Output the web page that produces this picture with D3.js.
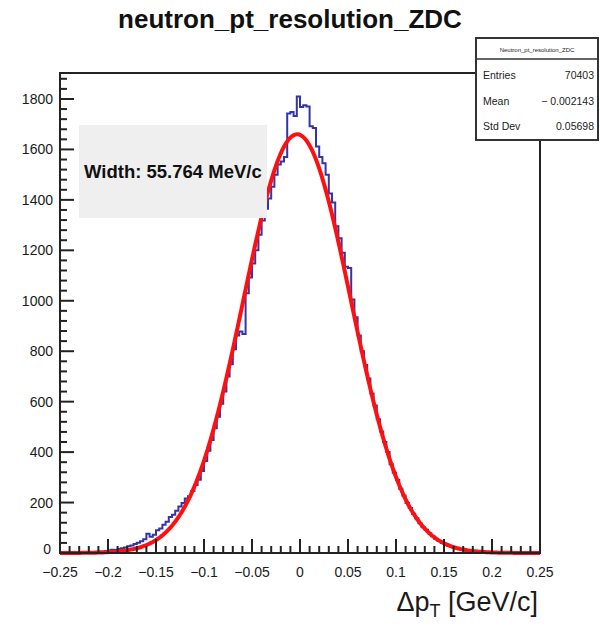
<!DOCTYPE html>
<html><head><meta charset="utf-8">
<script src="https://cdn.jsdelivr.net/npm/d3@7"></script>
<style>body{margin:0;background:#fff}svg{display:block}text{font-family:"Liberation Sans",Arial,sans-serif}</style>
</head><body>
<svg id="c" width="600" height="626"></svg>
<script>
// ---- data ----
const title = "neutron_pt_resolution_ZDC";
const xMin = -0.25, xMax = 0.25, nBins = 150;
const counts = [
 0,0,1,0,1,2,1,3,2,4,
 3,5,6,5,8,11,13,12,16,19,
 22,27,30,36,41,47,55,76,64,72,
 90,97,112,124,143,152,168,184,198,216,
 225,246,270,290,325,365,405,448,495,540,
 592,640,700,748,808,862,878,868,1030,1092,
 1148,1200,1262,1318,1365,1405,1452,1500,1540,1552,
 1570,1742,1748,1733,1810,1768,1775,1770,1692,1685,
 1612,1570,1545,1500,1425,1390,1295,1248,1190,1135,
 1130,1005,935,862,800,745,692,632,585,530,
 482,440,400,352,318,290,255,228,198,178,
 156,138,118,102,92,78,66,56,48,40,
 34,28,24,20,17,14,12,10,8,6,
 5,4,3,3,2,2,1,1,1,0,
 1,0,0,0,0,0,0,0,0,0
];
const fitConstant = 1660, fitMean = -0.0030, fitSigma = 0.055764;
const xTicks = [-0.25,-0.2,-0.15,-0.1,-0.05,0,0.05,0.1,0.15,0.2,0.25];
const xTickLabels = ["\u22120.25","\u22120.2","\u22120.15","\u22120.1","\u22120.05","0","0.05","0.1","0.15","0.2","0.25"];
const yTicks = [0,200,400,600,800,1000,1200,1400,1600,1800];
const statsLabels = ["Entries","Mean","Std Dev"];
const statsValues = ["70403","\u2212 0.002143","0.05698"];
const widthText = "Width: 55.764 MeV/c";

// ---- layout ----
const L = 60, R = 540, T = 73, B = 553;
const yMax = 1903;
const svg = d3.select("#c");
const x = d3.scaleLinear().domain([xMin, xMax]).range([L, R]);
const y = d3.scaleLinear().domain([0, yMax]).range([B, T]);
const bw = (xMax - xMin) / nBins;

// histogram step line
const pts = [];
pts.push([x(xMin), y(0)]);
counts.forEach((c, i) => {
  pts.push([x(xMin + i * bw), y(c)]);
  pts.push([x(xMin + (i + 1) * bw), y(c)]);
});
svg.append("path").attr("d", d3.line()(pts))
  .attr("fill", "none").attr("stroke", "#3434aa").attr("stroke-width", 2);

// fit curve
const fx = d3.range(0, 401).map(k => xMin + k * (xMax - xMin) / 400);
const fitLine = d3.line().x(d => x(d)).y(d => y(fitConstant * Math.exp(-0.5 * Math.pow((d - fitMean) / fitSigma, 2))));
svg.append("path").attr("d", fitLine(fx)).attr("fill", "none").attr("stroke", "#ff1010").attr("stroke-width", 4);

// frame
svg.append("rect").attr("x", L).attr("y", T).attr("width", R - L).attr("height", B - T)
  .attr("fill", "none").attr("stroke", "#222").attr("stroke-width", 2);

// x ticks (inward)
const gx = svg.append("g");
d3.range(0, 51).forEach(k => {
  const v = xMin + k * 0.01;
  const major = k % 5 === 0;
  gx.append("line").attr("x1", x(v)).attr("x2", x(v)).attr("y1", B).attr("y2", B - (major ? 14 : 7))
    .attr("stroke", "#222").attr("stroke-width", 2);
});
xTicks.forEach((v, i) => {
  gx.append("text").attr("x", x(v)).attr("y", 577).attr("text-anchor", "middle")
    .attr("font-size", 14).attr("fill", "#1a1a1a").text(xTickLabels[i]);
});
// y ticks
const gy = svg.append("g");
d3.range(0, yMax, 40).forEach(v => {
  const major = v % 200 === 0;
  gy.append("line").attr("x1", L).attr("x2", L + (major ? 14 : 7)).attr("y1", y(v)).attr("y2", y(v))
    .attr("stroke", "#222").attr("stroke-width", 2);
});
yTicks.forEach(v => {
  gy.append("text").attr("x", v === 0 ? 51 : 53).attr("y", y(v) + 5 - (v === 0 ? 4 : 0)).attr("text-anchor", "end")
    .attr("font-size", 14).attr("fill", "#1a1a1a").text(v);
});

// axis title
const at = svg.append("text").attr("x", 538).attr("y", 611).attr("text-anchor", "end")
  .attr("font-size", 27).attr("fill", "#1a1a1a");
at.append("tspan").text("\u0394p");
at.append("tspan").attr("font-size", 18).attr("dy", 6).text("T");
at.append("tspan").attr("dy", -6).text(" [GeV/c]");

// title
svg.append("text").attr("x", 290).attr("y", 28).attr("text-anchor", "middle")
  .attr("font-size", 26).attr("font-weight", "bold").attr("fill", "#111").text(title);

// width box
svg.append("rect").attr("x", 79).attr("y", 125).attr("width", 188).attr("height", 93).attr("fill", "#efefef");
svg.append("text").attr("x", 84).attr("y", 178).attr("font-size", 18.5).attr("font-weight", "bold")
  .attr("fill", "#111").text(widthText);

// stats box
const sx = 476, sy = 38, sw = 122, sh = 102;
svg.append("rect").attr("x", sx).attr("y", sy).attr("width", sw).attr("height", sh)
  .attr("fill", "#fff").attr("stroke", "#333").attr("stroke-width", 2);
svg.append("line").attr("x1", sx).attr("x2", sx + sw).attr("y1", 59).attr("y2", 59).attr("stroke", "#333").attr("stroke-width", 1.5);
svg.append("text").attr("x", sx + sw / 2).attr("y", 52).attr("text-anchor", "middle")
  .attr("font-size", 6).attr("fill", "#222").text("Neutron_pt_resolution_ZDC");
statsLabels.forEach((s, i) => {
  const yy = 79 + i * 25.5;
  svg.append("text").attr("x", sx + 7).attr("y", yy).attr("font-size", 10.5).attr("fill", "#222").text(s);
  svg.append("text").attr("x", sx + sw - 4).attr("y", yy).attr("text-anchor", "end").attr("font-size", 10.5).attr("fill", "#222").text(statsValues[i]);
});
</script>
</body></html>
